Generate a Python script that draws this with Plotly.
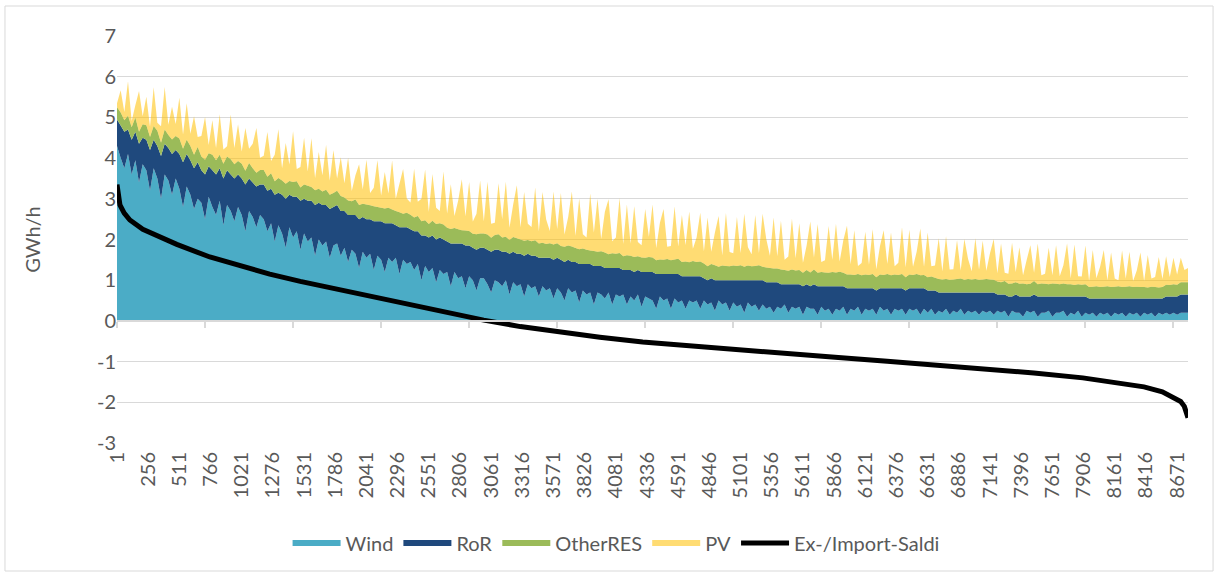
import plotly.graph_objects as go

# ---------------- data (hours sorted by Ex-/Import-Saldi) ----------------
# sample hours for the stacked areas (every 30th hour + last hour)
hours = list(range(1, 8732, 30)) + [8760]

wind = [
    4.3, 4.0, 3.75, 4.1, 3.6, 3.95, 3.4, 3.85, 3.7, 3.2, 3.75, 3.5, 3.0, 3.6, 3.45, 3.1, 3.5, 3.25, 2.8, 3.3,
    3.1, 2.75, 3.0, 2.9, 2.5, 3.05, 2.8, 2.6, 2.95, 2.35, 2.85, 2.7, 2.45, 2.8, 2.6, 2.2, 2.7, 2.55, 2.3, 2.6,
    2.5, 2.2, 2.4, 1.95, 2.35, 2.15, 1.8, 2.3, 2.05, 2.2, 1.75, 2.15, 1.95, 2.05, 1.6, 2.0, 1.85, 1.95, 1.55, 1.85,
    1.9, 1.6, 1.8, 1.45, 1.75, 1.65, 1.3, 1.7, 1.55, 1.65, 1.25, 1.6, 1.5, 1.2, 1.55, 1.45, 1.55, 1.15, 1.5, 1.4,
    1.45, 1.25, 1.4, 1.0, 1.35, 1.2, 1.3, 0.95, 1.25, 1.15, 1.2, 0.85, 1.2, 1.05, 1.1, 0.8, 1.1, 1.0, 0.75, 1.05,
    1.05, 0.9, 0.7, 1.0, 0.95, 0.85, 1.0, 0.65, 0.95, 0.85, 0.9, 0.6, 0.9, 0.8, 0.85, 0.6, 0.85, 0.75, 0.8, 0.55,
    0.8, 0.7, 0.5, 0.8, 0.7, 0.75, 0.45, 0.75, 0.65, 0.7, 0.4, 0.7, 0.65, 0.55, 0.7, 0.4, 0.65, 0.6, 0.65, 0.4,
    0.6, 0.5, 0.65, 0.35, 0.6, 0.55, 0.5, 0.3, 0.6, 0.5, 0.55, 0.3, 0.55, 0.45, 0.5, 0.3, 0.5, 0.45, 0.5, 0.3,
    0.5, 0.4, 0.45, 0.25, 0.5, 0.4, 0.45, 0.25, 0.45, 0.35, 0.4, 0.2, 0.45, 0.35, 0.4, 0.25, 0.4, 0.3, 0.35, 0.2,
    0.35, 0.3, 0.4, 0.2, 0.35, 0.3, 0.35, 0.15, 0.35, 0.3, 0.3, 0.15, 0.35, 0.25, 0.3, 0.15, 0.3, 0.25, 0.35, 0.15,
    0.3, 0.25, 0.35, 0.15, 0.3, 0.25, 0.3, 0.15, 0.35, 0.25, 0.3, 0.15, 0.3, 0.25, 0.3, 0.15, 0.3, 0.25, 0.3, 0.15,
    0.3, 0.2, 0.3, 0.15, 0.25, 0.2, 0.3, 0.15, 0.25, 0.2, 0.3, 0.15, 0.25, 0.2, 0.25, 0.15, 0.25, 0.2, 0.25, 0.15,
    0.25, 0.2, 0.25, 0.1, 0.25, 0.2, 0.2, 0.1, 0.25, 0.2, 0.25, 0.1, 0.2, 0.2, 0.25, 0.1, 0.2, 0.2, 0.25, 0.1,
    0.2, 0.15, 0.25, 0.1, 0.2, 0.15, 0.2, 0.1, 0.2, 0.15, 0.2, 0.1, 0.2, 0.15, 0.2, 0.1, 0.2, 0.15, 0.2, 0.1,
    0.2, 0.15, 0.2, 0.1, 0.2, 0.15, 0.2, 0.15, 0.2, 0.15, 0.2, 0.2, 0.2,
]
ror = [
    0.65, 0.8, 0.9, 0.6, 0.85, 0.7, 0.95, 0.65, 0.75, 1.0, 0.7, 0.8, 1.05, 0.75, 0.8, 1.0, 0.7, 0.85, 1.1, 0.8,
    0.85, 1.0, 0.9, 0.8, 1.1, 0.75, 0.9, 1.0, 0.8, 1.15, 0.85, 0.9, 1.05, 0.8, 0.9, 1.15, 0.8, 0.85, 1.0, 0.75,
    0.85, 1.0, 0.85, 1.15, 0.8, 0.95, 1.2, 0.8, 1.0, 0.85, 1.2, 0.85, 1.0, 0.9, 1.25, 0.9, 1.0, 0.9, 1.2, 0.95,
    0.95, 1.1, 0.9, 1.15, 0.85, 0.95, 1.2, 0.85, 0.95, 0.85, 1.2, 0.85, 0.95, 1.2, 0.85, 0.95, 0.8, 1.15, 0.8, 0.9,
    0.8, 0.95, 0.8, 1.1, 0.75, 0.85, 0.8, 1.05, 0.8, 0.85, 0.75, 1.05, 0.7, 0.85, 0.8, 1.05, 0.75, 0.8, 1.0, 0.75,
    0.75, 0.85, 1.0, 0.75, 0.8, 0.85, 0.7, 1.0, 0.75, 0.8, 0.75, 1.0, 0.75, 0.8, 0.75, 0.95, 0.7, 0.8, 0.75, 0.95,
    0.75, 0.8, 0.95, 0.7, 0.75, 0.7, 0.95, 0.65, 0.75, 0.7, 0.95, 0.65, 0.7, 0.75, 0.6, 0.9, 0.65, 0.7, 0.6, 0.85,
    0.65, 0.7, 0.6, 0.85, 0.6, 0.65, 0.7, 0.85, 0.55, 0.65, 0.6, 0.85, 0.6, 0.7, 0.6, 0.8, 0.6, 0.65, 0.6, 0.8,
    0.55, 0.6, 0.6, 0.75, 0.5, 0.6, 0.55, 0.75, 0.55, 0.65, 0.6, 0.8, 0.55, 0.65, 0.6, 0.75, 0.6, 0.65, 0.6, 0.75,
    0.6, 0.6, 0.5, 0.7, 0.55, 0.6, 0.55, 0.7, 0.55, 0.55, 0.6, 0.7, 0.5, 0.6, 0.55, 0.7, 0.55, 0.6, 0.5, 0.65,
    0.5, 0.55, 0.45, 0.65, 0.5, 0.55, 0.5, 0.6, 0.45, 0.55, 0.5, 0.65, 0.5, 0.55, 0.5, 0.6, 0.5, 0.55, 0.5, 0.65,
    0.5, 0.55, 0.45, 0.6, 0.45, 0.5, 0.4, 0.55, 0.45, 0.5, 0.4, 0.55, 0.45, 0.5, 0.45, 0.55, 0.45, 0.5, 0.45, 0.55,
    0.4, 0.45, 0.4, 0.5, 0.35, 0.45, 0.4, 0.5, 0.35, 0.4, 0.4, 0.5, 0.4, 0.4, 0.35, 0.5, 0.4, 0.4, 0.35, 0.5,
    0.4, 0.45, 0.35, 0.5, 0.4, 0.4, 0.35, 0.45, 0.35, 0.4, 0.35, 0.45, 0.35, 0.4, 0.35, 0.45, 0.35, 0.4, 0.35, 0.45,
    0.35, 0.4, 0.35, 0.45, 0.35, 0.4, 0.4, 0.45, 0.4, 0.45, 0.45, 0.45, 0.45,
]
other_res = [
    0.3, 0.32, 0.28, 0.34, 0.31, 0.35, 0.3, 0.33, 0.36, 0.32, 0.34, 0.37, 0.33, 0.35, 0.32, 0.36, 0.34, 0.38, 0.33, 0.35,
    0.35, 0.33, 0.37, 0.34, 0.36, 0.32, 0.38, 0.35, 0.33, 0.36, 0.34, 0.37, 0.35, 0.33, 0.36, 0.34, 0.38, 0.35, 0.34, 0.36,
    0.36, 0.34, 0.38, 0.33, 0.36, 0.35, 0.37, 0.34, 0.36, 0.38, 0.33, 0.35, 0.37, 0.34, 0.36, 0.35, 0.33, 0.37, 0.35, 0.34,
    0.35, 0.37, 0.33, 0.36, 0.34, 0.38, 0.35, 0.33, 0.36, 0.34, 0.37, 0.35, 0.33, 0.36, 0.38, 0.34, 0.35, 0.37, 0.33, 0.36,
    0.36, 0.34, 0.38, 0.35, 0.37, 0.33, 0.36, 0.38, 0.35, 0.37, 0.34, 0.36, 0.38, 0.35, 0.33, 0.37, 0.36, 0.34, 0.38, 0.35,
    0.35, 0.37, 0.34, 0.36, 0.38, 0.35, 0.37, 0.34, 0.36, 0.38, 0.35, 0.37, 0.34, 0.36, 0.38, 0.35, 0.37, 0.34, 0.36, 0.38,
    0.36, 0.34, 0.37, 0.35, 0.38, 0.34, 0.36, 0.38, 0.35, 0.33, 0.37, 0.35, 0.36, 0.38, 0.34, 0.36, 0.35, 0.37, 0.34, 0.36,
    0.35, 0.37, 0.34, 0.36, 0.35, 0.37, 0.36, 0.34, 0.36, 0.35, 0.37, 0.34, 0.36, 0.38, 0.35, 0.36, 0.34, 0.37, 0.35, 0.36,
    0.36, 0.34, 0.35, 0.37, 0.33, 0.36, 0.35, 0.34, 0.36, 0.35, 0.37, 0.33, 0.36, 0.34, 0.35, 0.37, 0.33, 0.36, 0.35, 0.34,
    0.34, 0.36, 0.35, 0.33, 0.36, 0.34, 0.35, 0.33, 0.35, 0.34, 0.36, 0.33, 0.35, 0.34, 0.33, 0.35, 0.34, 0.36, 0.33, 0.34,
    0.34, 0.33, 0.35, 0.32, 0.34, 0.33, 0.35, 0.32, 0.34, 0.33, 0.35, 0.32, 0.34, 0.33, 0.35, 0.32, 0.34, 0.33, 0.35, 0.32,
    0.33, 0.32, 0.34, 0.31, 0.33, 0.32, 0.33, 0.31, 0.32, 0.33, 0.34, 0.31, 0.33, 0.32, 0.33, 0.31, 0.32, 0.33, 0.32, 0.31,
    0.32, 0.3, 0.33, 0.31, 0.32, 0.3, 0.31, 0.32, 0.3, 0.31, 0.33, 0.3, 0.32, 0.31, 0.3, 0.32, 0.31, 0.3, 0.32, 0.3,
    0.3, 0.28, 0.3, 0.29, 0.3, 0.28, 0.29, 0.3, 0.28, 0.29, 0.3, 0.28, 0.29, 0.3, 0.28, 0.29, 0.3, 0.28, 0.29, 0.28,
    0.28, 0.27, 0.29, 0.28, 0.27, 0.28, 0.29, 0.28, 0.3, 0.29, 0.3, 0.3, 0.3,
]
pv = [
    0.1, 0.55, 0.2, 0.85, 0.15, 0.3, 1.0, 0.2, 0.7, 0.25, 0.95, 0.2, 0.4, 1.05, 0.25, 0.8, 0.3, 1.0, 0.35, 0.9,
    0.3, 0.95, 0.25, 0.5, 1.05, 0.2, 0.85, 0.3, 1.0, 0.35, 0.25, 1.1, 0.4, 0.9, 0.3, 1.05, 0.35, 0.6, 1.1, 0.3,
    0.35, 1.1, 0.3, 0.65, 1.2, 0.3, 1.0, 0.4, 1.25, 0.3, 0.5, 1.15, 0.35, 1.2, 0.3, 0.9, 0.4, 1.1, 0.35, 1.05,
    0.3, 0.95, 0.35, 1.05, 0.25, 0.6, 1.0, 0.35, 1.1, 0.3, 0.45, 1.15, 0.3, 0.9, 0.35, 1.2, 0.3, 0.7, 1.1, 0.35,
    0.3, 1.2, 0.35, 0.55, 1.25, 0.3, 1.15, 0.4, 0.3, 1.3, 0.35, 1.1, 0.3, 0.7, 1.25, 0.35, 1.2, 0.3, 0.5, 1.3,
    0.3, 1.3, 0.35, 0.3, 1.25, 0.45, 1.35, 0.3, 0.8, 1.3, 0.3, 1.2, 0.4, 0.35, 1.3, 0.3, 1.25, 0.6, 0.3, 1.3,
    0.35, 1.3, 0.3, 0.7, 1.35, 0.3, 1.25, 0.35, 0.3, 1.4, 0.45, 1.3, 0.3, 1.0, 1.35, 0.3, 0.4, 1.35, 0.3, 1.25,
    0.3, 1.25, 0.35, 0.3, 1.2, 0.5, 1.3, 0.3, 0.9, 1.25, 0.3, 0.35, 1.3, 0.3, 1.15, 0.4, 1.25, 0.3, 0.6, 1.2,
    0.3, 1.2, 0.3, 0.8, 1.25, 0.25, 1.3, 0.35, 0.3, 1.2, 0.3, 1.3, 0.45, 0.3, 1.25, 0.3, 1.3, 0.7, 0.3, 1.25,
    0.3, 1.2, 0.25, 0.35, 1.25, 0.3, 1.15, 0.25, 0.6, 1.25, 0.3, 1.2, 0.25, 0.3, 1.15, 0.3, 1.2, 0.25, 0.8, 1.2,
    0.25, 1.1, 0.2, 0.3, 1.05, 0.25, 1.1, 0.2, 0.7, 1.1, 0.25, 1.05, 0.2, 0.3, 1.15, 0.25, 1.1, 0.2, 0.55, 1.15,
    0.2, 1.1, 0.25, 0.3, 1.0, 0.2, 1.05, 0.25, 0.25, 0.95, 0.2, 1.0, 0.5, 0.2, 1.0, 0.25, 0.95, 0.2, 0.65, 1.0,
    0.2, 0.95, 0.2, 0.25, 1.0, 0.25, 0.9, 0.2, 0.6, 0.95, 0.2, 1.0, 0.2, 0.25, 0.9, 0.2, 0.95, 0.2, 0.45, 1.0,
    0.15, 1.0, 0.2, 0.2, 0.95, 0.15, 0.9, 0.2, 0.5, 0.9, 0.15, 0.85, 0.2, 0.15, 0.9, 0.2, 0.85, 0.15, 0.4, 0.85,
    0.15, 0.8, 0.2, 0.25, 0.75, 0.2, 0.7, 0.2, 0.65, 0.25, 0.6, 0.3, 0.35,
]

# Ex-/Import-Saldi (sorted duration curve)
saldi_hours = [1, 10, 25, 60, 106, 212, 350, 490, 760, 1030, 1250, 1500, 1800, 2100,
               2400, 2700, 3000, 3300, 3600, 3950, 4300, 4700, 5100, 5500, 5900, 6300,
               6700, 7100, 7500, 7900, 8200, 8400, 8550, 8650, 8700, 8730, 8750, 8760]
saldi = [3.35, 3.05, 2.85, 2.65, 2.48, 2.25, 2.05, 1.88, 1.57, 1.33, 1.15, 0.97, 0.78, 0.58,
         0.4, 0.2, 0.02, -0.14, -0.27, -0.4, -0.52, -0.62, -0.73, -0.82, -0.9, -0.99,
         -1.08, -1.18, -1.28, -1.4, -1.52, -1.62, -1.74, -1.88, -1.98, -2.1, -2.25, -2.38]

x_tick_values = [1, 256, 511, 766, 1021, 1276, 1531, 1786, 2041, 2296, 2551, 2806, 3061, 3316,
                 3571, 3826, 4081, 4336, 4591, 4846, 5101, 5356, 5611, 5866, 6121, 6376, 6631,
                 6886, 7141, 7396, 7651, 7906, 8161, 8416, 8671]
x_tick_labels = [str(v) for v in x_tick_values]
y_tick_values = [-3, -2, -1, 0, 1, 2, 3, 4, 5, 6, 7]
y_tick_labels = ["-3", "-2", "-1", "0", "1", "2", "3", "4", "5", "6", "7"]

for arr in (wind, ror, other_res, pv):
    assert len(arr) == len(hours), (len(arr), len(hours))

series = [
    ("Wind", wind, "#4bacc6"),
    ("RoR", ror, "#1f497d"),
    ("OtherRES", other_res, "#9bbb59"),
    ("PV", pv, "rgba(255,192,0,0.55)"),
]

FONT = "Lato"
GREY = "#595959"
GRID = "#d9d9d9"
FS = 20

fig = go.Figure()
for name, vals, col in series:
    fig.add_trace(go.Scatter(
        x=hours, y=vals, name=name, stackgroup="one", mode="none",
        fillcolor=col, line=dict(width=0), hoverinfo="skip",
    ))

fig.add_trace(go.Scatter(
    x=saldi_hours, y=saldi, name="Ex-/Import-Saldi", mode="lines",
    line=dict(color="black", width=5), xaxis="x2", hoverinfo="skip",
))

fig.update_layout(
    width=1218, height=576,
    margin=dict(l=117, r=30, t=36, b=133, autoexpand=False),
    paper_bgcolor="white", plot_bgcolor="white",
    font=dict(family=FONT, size=FS, color=GREY),
    showlegend=True,
    legend=dict(orientation="h", x=0.466, xanchor="center", y=-0.246, yanchor="middle",
                font=dict(family=FONT, size=FS, color=GREY), itemwidth=48,
                traceorder="normal"),
    xaxis=dict(range=[1, 8760], tickmode="array", tickvals=x_tick_values, ticktext=x_tick_labels,
               tickangle=-90, ticks="", showgrid=False, showline=False, zeroline=False,
               automargin=False, ticklabelstandoff=4,
               tickfont=dict(family=FONT, size=FS, color=GREY)),
    xaxis2=dict(overlaying="x", anchor="free", position=0.3, range=[1, 8760],
                tickmode="linear", tick0=1, dtick=720, ticks="outside", ticklen=6,
                tickwidth=1.5, tickcolor=GRID, showticklabels=False, showgrid=False,
                showline=True, linecolor=GRID, linewidth=1.5, zeroline=False, automargin=False),
    yaxis=dict(range=[-3, 7], tickmode="array", tickvals=y_tick_values, ticktext=y_tick_labels,
               showgrid=True, gridcolor=GRID, gridwidth=1.3, zeroline=False, showline=False,
               ticks="", automargin=False,
               tickfont=dict(family=FONT, size=FS, color=GREY),
               title=dict(text="GWh/h", font=dict(family=FONT, size=FS, color=GREY), standoff=50)),
    shapes=[dict(type="rect", xref="paper", yref="paper", x0=-0.1046, x1=1.0234,
                 y0=-0.3145, y1=1.0737, line=dict(color=GRID, width=1), layer="below")],
)

fig.write_html("out.html", config={"displayModeBar": False},
               post_script="document.body.style.margin='0';document.body.style.overflow='hidden';")
